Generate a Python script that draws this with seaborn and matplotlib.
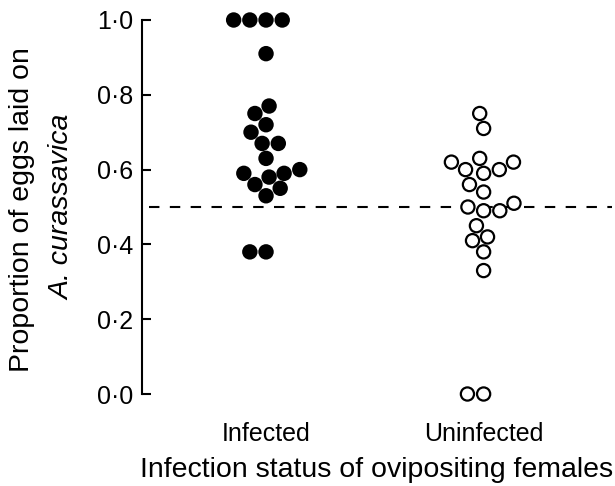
import matplotlib
matplotlib.use("Agg")
import matplotlib.pyplot as plt
import seaborn as sns
import pandas as pd

categories = ["Infected", "Uninfected"]
infected = [1.0, 1.0, 1.0, 1.0, 0.91, 0.77, 0.75, 0.72, 0.70, 0.67, 0.67,
            0.63, 0.60, 0.59, 0.59, 0.58, 0.56, 0.55, 0.53, 0.38, 0.38]
uninfected = [0.75, 0.71, 0.63, 0.62, 0.62, 0.60, 0.60, 0.59, 0.56, 0.54,
              0.51, 0.50, 0.49, 0.49, 0.45, 0.42, 0.41, 0.38, 0.33, 0.0, 0.0]
yticks = [0.0, 0.2, 0.4, 0.6, 0.8, 1.0]
ytick_labels = ["0·0", "0·2", "0·4", "0·6", "0·8", "1·0"]

df = pd.DataFrame({
    "status": [categories[0]] * len(infected) + [categories[1]] * len(uninfected),
    "prop": infected + uninfected,
})

sns.set_style("white")
plt.rcParams["font.family"] = ["Liberation Sans", "DejaVu Sans"]
plt.rcParams["text.color"] = "black"
plt.rcParams["axes.labelcolor"] = "black"
plt.rcParams["xtick.color"] = "black"
plt.rcParams["ytick.color"] = "black"

fig = plt.figure(figsize=(6.15, 4.86), dpi=100)
ax = fig.add_axes([142 / 615, 1 - 394 / 486, (612 - 142) / 615, (394 - 20) / 486])

sns.swarmplot(data=df, x="status", y="prop", hue="status", order=categories,
              palette={"Infected": "black", "Uninfected": "white"},
              edgecolor="black", linewidth=1.6, size=9.5, legend=False,
              ax=ax, clip_on=False, zorder=3)

ax.axhline(0.5, xmin=0.015, color="black", lw=1.5, ls=(0, (5, 5)), zorder=1)

ax.set_ylim(0, 1)
ax.set_xlim(-0.57, 1.59)
ax.set_yticks(yticks)
ax.set_yticklabels(ytick_labels, fontsize=18)
ax.tick_params(axis="y", direction="in", length=6.5, width=1.5, pad=6.5, left=True)
ax.tick_params(axis="x", length=0, pad=20, labelsize=18)
for s in ["top", "right", "bottom"]:
    ax.spines[s].set_visible(False)
ax.spines["left"].set_linewidth(1.5)
ax.spines["left"].set_color("black")
ax.set_xlabel("Infection status of ovipositing females", fontsize=20.5, labelpad=8)
ax.set_ylabel("")

fig.text(22 / 615, 1 - 210 / 486, "Proportion of eggs laid on", rotation=90,
         ha="center", va="center", fontsize=20.5)
fig.text(62 / 615, 1 - 207 / 486, "A. curassavica", rotation=90,
         ha="center", va="center", fontsize=20.5, style="italic")

fig.savefig("out.png", dpi=100)
